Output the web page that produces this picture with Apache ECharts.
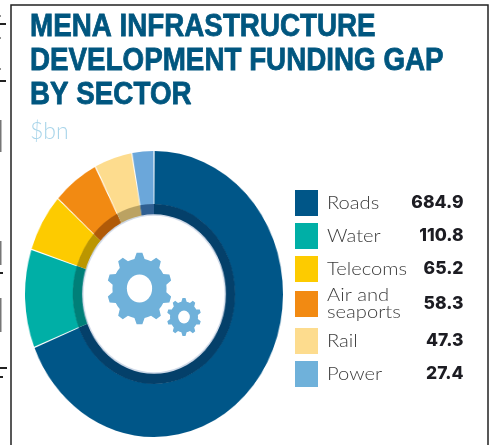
<!DOCTYPE html>
<html><head><meta charset="utf-8">
<style>
html,body{margin:0;padding:0;background:#fff;width:489px;height:445px;overflow:hidden}
#pie{position:absolute;left:4px;top:144px;width:300px;height:300px;transform:scaleX(.902);transform-origin:150px 150px}
#main{position:absolute;left:0;top:0;width:489px;height:445px}
</style>
<script src="https://cdn.jsdelivr.net/npm/echarts@6/dist/echarts.min.js"></script>
</head><body>
<div id="pie"></div><div id="main"></div>
<script>
const titleLines=['MENA INFRASTRUCTURE','DEVELOPMENT FUNDING GAP','BY SECTOR'];
const unitLabel='$bn';
const categories=['Roads','Water','Telecoms','Air and\nseaports','Rail','Power'];
const values=[684.9,110.8,65.2,58.3,47.3,27.4];
const valueLabels=['684.9','110.8','65.2','58.3','47.3','27.4'];
const colors=['#005688','#00AFA6','#FDCB00','#F28A12','#FDDC8E','#6BA7DA'];
const legendColors=['#005688','#00AFA6','#FDCB00','#F28A12','#FDDC8E','#6FB1DA'];
const darkColors=['#04406A','#007F78','#BB9600','#B05A08','#BBA262','#2F5F92'];
const legendTops=[190,223,256,291,328,361];

const rows=categories.map((c,i)=>({name:c,value:values[i]}));
const pie=echarts.init(document.getElementById('pie'));
pie.setOption({
  animation:false,
  graphic:[{type:'circle',z:10,shape:{cx:150,cy:150,r:79},style:{fill:'#fff',stroke:'#cfd9e8',lineWidth:1.5}}],
  series:[
    {type:'pie',silent:true,center:[150,150],radius:[89.5,143],startAngle:90,clockwise:true,padAngle:.5,label:{show:false},labelLine:{show:false},
     data:rows.map((r,i)=>({...r,itemStyle:{color:colors[i]}}))},
    {type:'pie',silent:true,center:[150,150],radius:[79,90],startAngle:90,clockwise:true,label:{show:false},labelLine:{show:false},
     data:rows.map((r,i)=>({...r,itemStyle:{color:darkColors[i]}}))}
  ]
});

function gear(teeth,ro,rr){
  const pts=[],n=teeth,step=Math.PI*2/n;
  for(let i=0;i<n;i++){
    const a=i*step-Math.PI/2;
    [[-.5,rr],[-.3,rr],[-.14,ro],[.14,ro],[.3,rr]].forEach(([f,r])=>pts.push([r*Math.cos(a+f*step),r*Math.sin(a+f*step)]));
  }
  return pts;
}
function gearG(cx,cy,teeth,ro,rr,hole){
  return {type:'group',x:cx,y:cy,scaleX:.902,scaleY:1,children:[
    {type:'polygon',shape:{points:gear(teeth,ro,rr)},style:{fill:'#6FB1DA'}},
    {type:'circle',shape:{cx:0,cy:0,r:hole},style:{fill:'#fff'}}
  ]};
}
const g=[];
g.push({type:'polyline',shape:{points:[[11,445],[11,5],[488,5],[488,445]]},style:{fill:null,stroke:'#222',lineWidth:1.5}});
[[24,6,2],[81,6,2],[273,3,2],[368,7,2],[377,3,2],[16,1,1],[38,1,1],[69,1,1]].forEach(([y,w,h])=>g.push({type:'rect',shape:{x:0,y:y-h/2,width:w,height:h},style:{fill:'#222'}}));
[[120,152],[241,265],[298,332]].forEach(([a,b])=>g.push({type:'rect',shape:{x:0,y:a,width:1.5,height:b-a},style:{fill:'#777'}}));
g.push(gearG(139.5,288.5,10,36,30,14));
g.push(gearG(184,317,10,19,15.5,6.5));
titleLines.forEach((t,i)=>g.push({type:'text',x:30,y:11+34*i,scaleX:.868,style:{text:t,font:'bold 32px "Liberation Sans"',fill:'#00567F',stroke:'#00567F',lineWidth:.8}}));
g.push({type:'text',x:30,y:132,style:{text:unitLabel,font:'300 23px Lato',fill:'#a9d5ea',verticalAlign:'middle'}});
categories.forEach((c,i)=>{
  const y=legendTops[i];
  g.push({type:'rect',shape:{x:295,y:y,width:23,height:26},style:{fill:legendColors[i]}});
  g.push({type:'text',x:327,y:y+13,scaleX:1.12,style:{text:c,font:'300 18px Lato',fill:'#3c3c3c',verticalAlign:'middle',lineHeight:17}});
  g.push({type:'text',x:463.5,y:y+13,style:{text:valueLabels[i],font:'800 17.5px Inter, "Open Sans"',fill:'#1c1c22',align:'right',verticalAlign:'middle'}});
});
const main=echarts.init(document.getElementById('main'));
main.setOption({animation:false,graphic:g});
</script></body></html>
